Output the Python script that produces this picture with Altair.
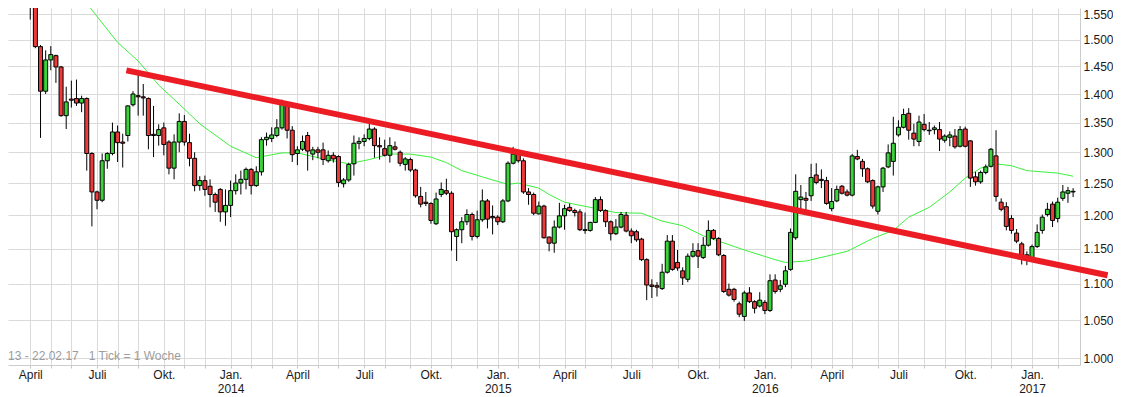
import altair as alt
import pandas as pd
import numpy as np

# ---------------- data (weekly candles, first candle week of 2013-04-07) ----------------
first_week = "2013-04-07"

opens = [
    1.610, 1.575, 1.487, 1.405, 1.462, 1.470, 1.449, 1.362, 1.391, 1.392,
    1.384, 1.392, 1.298, 1.236, 1.223, 1.286, 1.298, 1.334, 1.317, 1.328,
    1.381, 1.397, 1.395, 1.392, 1.330, 1.328, 1.341, 1.317, 1.274, 1.317,
    1.352, 1.316, 1.290, 1.246, 1.254, 1.245, 1.232, 1.240, 1.205, 1.215,
    1.238, 1.250, 1.256, 1.272, 1.246, 1.268, 1.321, 1.323, 1.328, 1.341,
    1.383, 1.337, 1.298, 1.305, 1.328, 1.297, 1.304, 1.304, 1.286, 1.295,
    1.293, 1.249, 1.255, 1.281, 1.315, 1.318, 1.323, 1.339, 1.311, 1.306,
    1.295, 1.309, 1.300, 1.280, 1.288, 1.271, 1.229, 1.220, 1.218, 1.187,
    1.232, 1.238, 1.234, 1.168, 1.178, 1.190, 1.201, 1.168, 1.193, 1.222,
    1.198, 1.197, 1.190, 1.222, 1.282, 1.297, 1.286, 1.236, 1.232, 1.202,
    1.214, 1.167, 1.158, 1.182, 1.199, 1.212, 1.207, 1.205, 1.178, 1.177,
    1.189, 1.224, 1.207, 1.190, 1.172, 1.182, 1.200, 1.176, 1.175, 1.164,
    1.134, 1.098, 1.097, 1.093, 1.116, 1.161, 1.130, 1.118, 1.106, 1.139,
    1.147, 1.137, 1.155, 1.177, 1.165, 1.140, 1.092, 1.092, 1.072, 1.055,
    1.087, 1.075, 1.069, 1.074, 1.063, 1.105, 1.092, 1.099, 1.120, 1.166,
    1.224, 1.226, 1.230, 1.263, 1.256, 1.254, 1.210, 1.222, 1.245, 1.236,
    1.231, 1.293, 1.285, 1.273, 1.254, 1.206, 1.244, 1.276, 1.285, 1.329,
    1.342, 1.366, 1.332, 1.318, 1.347, 1.337, 1.338, 1.338, 1.320, 1.325,
    1.327, 1.310, 1.339, 1.319, 1.260, 1.252, 1.267, 1.277, 1.294, 1.220,
    1.213, 1.195, 1.173, 1.157, 1.141, 1.136, 1.153, 1.177, 1.201, 1.217,
    1.195, 1.226, 1.234, 1.236,
]
highs = [
    1.620, 1.580, 1.490, 1.480, 1.488, 1.472, 1.451, 1.413, 1.424, 1.426,
    1.397, 1.394, 1.300, 1.238, 1.298, 1.300, 1.350, 1.345, 1.331, 1.380,
    1.405, 1.442, 1.418, 1.394, 1.379, 1.347, 1.350, 1.320, 1.330, 1.366,
    1.363, 1.331, 1.300, 1.261, 1.262, 1.256, 1.235, 1.242, 1.240, 1.254,
    1.264, 1.270, 1.275, 1.274, 1.277, 1.325, 1.333, 1.342, 1.356, 1.390,
    1.386, 1.344, 1.310, 1.328, 1.334, 1.309, 1.309, 1.316, 1.303, 1.300,
    1.295, 1.258, 1.283, 1.328, 1.325, 1.330, 1.350, 1.342, 1.325, 1.321,
    1.325, 1.318, 1.303, 1.292, 1.291, 1.273, 1.244, 1.236, 1.220, 1.235,
    1.251, 1.257, 1.237, 1.180, 1.197, 1.209, 1.204, 1.207, 1.240, 1.225,
    1.215, 1.200, 1.225, 1.285, 1.309, 1.300, 1.290, 1.242, 1.235, 1.221,
    1.216, 1.168, 1.192, 1.219, 1.216, 1.218, 1.210, 1.209, 1.204, 1.190,
    1.228, 1.229, 1.209, 1.192, 1.194, 1.205, 1.205, 1.180, 1.178, 1.166,
    1.136, 1.106, 1.102, 1.128, 1.170, 1.170, 1.148, 1.123, 1.143, 1.158,
    1.158, 1.167, 1.192, 1.179, 1.167, 1.142, 1.100, 1.094, 1.075, 1.090,
    1.095, 1.077, 1.088, 1.077, 1.113, 1.113, 1.105, 1.125, 1.180, 1.264,
    1.247, 1.236, 1.281, 1.282, 1.272, 1.260, 1.242, 1.246, 1.247, 1.240,
    1.297, 1.304, 1.289, 1.275, 1.256, 1.246, 1.276, 1.313, 1.360, 1.354,
    1.374, 1.375, 1.348, 1.362, 1.365, 1.351, 1.345, 1.351, 1.330, 1.335,
    1.339, 1.344, 1.343, 1.320, 1.268, 1.270, 1.280, 1.307, 1.337, 1.226,
    1.220, 1.200, 1.179, 1.160, 1.146, 1.156, 1.186, 1.201, 1.219, 1.221,
    1.227, 1.247, 1.244, 1.242,
]
lows = [
    1.539, 1.484, 1.324, 1.400, 1.443, 1.420, 1.360, 1.339, 1.376, 1.379,
    1.368, 1.270, 1.183, 1.209, 1.220, 1.273, 1.295, 1.284, 1.275, 1.318,
    1.378, 1.362, 1.362, 1.305, 1.292, 1.311, 1.295, 1.264, 1.256, 1.300,
    1.311, 1.277, 1.237, 1.238, 1.230, 1.212, 1.205, 1.190, 1.184, 1.197,
    1.232, 1.232, 1.240, 1.232, 1.244, 1.262, 1.311, 1.317, 1.325, 1.338,
    1.323, 1.284, 1.279, 1.302, 1.270, 1.287, 1.290, 1.279, 1.283, 1.283,
    1.244, 1.243, 1.252, 1.262, 1.305, 1.310, 1.320, 1.291, 1.288, 1.293,
    1.283, 1.303, 1.277, 1.270, 1.268, 1.227, 1.212, 1.214, 1.187, 1.185,
    1.228, 1.231, 1.147, 1.132, 1.158, 1.185, 1.162, 1.165, 1.190, 1.180,
    1.171, 1.185, 1.188, 1.220, 1.280, 1.283, 1.233, 1.216, 1.200, 1.201,
    1.165, 1.146, 1.144, 1.180, 1.178, 1.205, 1.198, 1.176, 1.172, 1.175,
    1.188, 1.205, 1.182, 1.162, 1.170, 1.180, 1.174, 1.158, 1.160, 1.132,
    1.077, 1.080, 1.082, 1.091, 1.114, 1.118, 1.118, 1.098, 1.102, 1.137,
    1.122, 1.135, 1.153, 1.163, 1.139, 1.087, 1.082, 1.075, 1.054, 1.049,
    1.073, 1.059, 1.067, 1.058, 1.061, 1.086, 1.088, 1.095, 1.118, 1.163,
    1.204, 1.206, 1.222, 1.248, 1.242, 1.216, 1.206, 1.220, 1.232, 1.229,
    1.229, 1.287, 1.260, 1.250, 1.210, 1.201, 1.236, 1.274, 1.262, 1.326,
    1.340, 1.321, 1.310, 1.310, 1.335, 1.329, 1.330, 1.302, 1.316, 1.310,
    1.306, 1.308, 1.308, 1.244, 1.246, 1.249, 1.264, 1.275, 1.221, 1.206,
    1.177, 1.172, 1.158, 1.127, 1.126, 1.132, 1.151, 1.172, 1.198, 1.182,
    1.189, 1.222, 1.219, 1.228,
]
closes = [
    1.575, 1.487, 1.405, 1.462, 1.472, 1.449, 1.362, 1.386, 1.389, 1.384,
    1.392, 1.298, 1.236, 1.223, 1.286, 1.298, 1.334, 1.316, 1.315, 1.379,
    1.400, 1.395, 1.393, 1.328, 1.328, 1.338, 1.313, 1.274, 1.317, 1.352,
    1.317, 1.290, 1.246, 1.254, 1.240, 1.232, 1.220, 1.205, 1.215, 1.238,
    1.250, 1.256, 1.272, 1.246, 1.268, 1.321, 1.325, 1.329, 1.341, 1.383,
    1.337, 1.296, 1.304, 1.318, 1.302, 1.304, 1.300, 1.288, 1.295, 1.289,
    1.251, 1.255, 1.280, 1.315, 1.318, 1.323, 1.339, 1.311, 1.309, 1.295,
    1.311, 1.305, 1.282, 1.289, 1.271, 1.230, 1.217, 1.218, 1.192, 1.225,
    1.240, 1.234, 1.175, 1.178, 1.190, 1.201, 1.168, 1.193, 1.222, 1.194,
    1.196, 1.190, 1.222, 1.282, 1.297, 1.286, 1.236, 1.232, 1.203, 1.214,
    1.166, 1.158, 1.182, 1.199, 1.210, 1.207, 1.204, 1.178, 1.177, 1.189,
    1.224, 1.207, 1.190, 1.172, 1.182, 1.201, 1.176, 1.169, 1.163, 1.134,
    1.098, 1.096, 1.095, 1.116, 1.161, 1.120, 1.122, 1.108, 1.139, 1.146,
    1.139, 1.155, 1.177, 1.165, 1.141, 1.089, 1.084, 1.078, 1.058, 1.087,
    1.075, 1.066, 1.077, 1.063, 1.104, 1.089, 1.097, 1.118, 1.174, 1.237,
    1.228, 1.223, 1.259, 1.251, 1.254, 1.218, 1.221, 1.240, 1.234, 1.231,
    1.294, 1.289, 1.273, 1.252, 1.214, 1.244, 1.274, 1.299, 1.315, 1.342,
    1.364, 1.337, 1.322, 1.351, 1.338, 1.336, 1.341, 1.322, 1.327, 1.329,
    1.309, 1.338, 1.310, 1.258, 1.252, 1.267, 1.276, 1.305, 1.229, 1.209,
    1.183, 1.177, 1.161, 1.139, 1.137, 1.153, 1.174, 1.197, 1.209, 1.192,
    1.220, 1.236, 1.238, 1.237,
]

# moving average (green line), read at selected candles (candle number -> value)
ma_idx = [11, 12, 17, 21, 25, 29, 33, 39, 44, 49, 52, 56, 62, 66, 70, 74, 78, 81,
          84, 90, 93, 95, 99, 101, 104, 109, 114, 119, 123, 127, 131, 134, 139,
          145, 147, 151, 159, 164, 168, 171, 175, 179, 182, 185, 188, 191, 194,
          200, 203]
ma_val = [1.573, 1.558, 1.495, 1.460, 1.416, 1.382, 1.348, 1.310, 1.291, 1.299,
          1.299, 1.291, 1.281, 1.288, 1.297, 1.297, 1.292, 1.283, 1.270, 1.255,
          1.248, 1.250, 1.242, 1.232, 1.220, 1.212, 1.204, 1.203, 1.191, 1.184,
          1.169, 1.161, 1.148, 1.134, 1.130, 1.132, 1.146, 1.165, 1.177, 1.197,
          1.212, 1.236, 1.258, 1.274, 1.281, 1.278, 1.270, 1.266, 1.261]

# red trend line
trend_dates = ["2013-08-16", "2017-04-14"]
trend_vals = [1.4427, 1.1117]

y_ticks = [1.00, 1.05, 1.10, 1.15, 1.20, 1.25, 1.30, 1.35, 1.40, 1.45, 1.50, 1.55]
footer = "13 - 22.02.17\u00a0\u00a0\u00a01 Tick = 1 Woche"

# ---------------- tables ----------------
dates = pd.date_range(first_week, periods=len(opens), freq="7D")
df = pd.DataFrame({
    "date": dates.strftime("%Y-%m-%d"),
    "open": opens, "high": highs, "low": lows, "close": closes,
})
df["dir"] = np.where(df["close"] >= df["open"], "up", "down")

ma_df = pd.DataFrame({"date": dates[ma_idx].strftime("%Y-%m-%d"), "ma": ma_val})
trend_df = pd.DataFrame({"date": trend_dates, "v": trend_vals})

s = pd.Series(dates)
firsts = s.groupby([s.dt.year, s.dt.month]).min()
x_ticks = [alt.DateTime(year=int(t.year), month=int(t.month), date=int(t.day), utc=True)
           for t in firsts]

# ---------------- styling ----------------
FONT = "Liberation Sans"
GRID = "#dadada"
GREEN = "#3ad43a"
RED = "#ee3a3a"

x_scale = alt.Scale(type="utc", domain=[
    alt.DateTime(year=2013, month=3, date=14, hours=12, utc=True),
    alt.DateTime(year=2017, month=2, date=28, hours=14, utc=True),
])
y_scale = alt.Scale(type="log", domain=[0.99175, 1.5619], nice=False, zero=False)

label_expr = ("utcmonth(datum.value) == 0 ? ['Jan.', utcFormat(datum.value, '%Y')] : "
              "utcmonth(datum.value) == 3 ? 'April' : "
              "utcmonth(datum.value) == 6 ? 'Juli' : "
              "utcmonth(datum.value) == 9 ? 'Okt.' : ''")

x_axis = alt.Axis(values=x_ticks, labelExpr=label_expr, title=None, grid=True,
                  gridColor=GRID, gridWidth=1, domainColor="#cccccc", tickColor="#c4c4c4",
                  tickSize=3, labelFont=FONT, labelFontSize=12, labelColor="#1a1a1a",
                  labelPadding=1, labelLineHeight=14, labelAngle=0, labelOverlap=False,
                  labelFlush=False)
y_axis = alt.Axis(orient="right", values=y_ticks, format=".3f", title=None, grid=True,
                  gridColor=GRID, gridWidth=1, ticks=False, labelPadding=3,
                  domainColor="#cccccc", labelFont=FONT, labelFontSize=12,
                  labelColor="#1a1a1a", labelOverlap=False, labelFlush=False)

X = alt.X("date:T", scale=x_scale, axis=x_axis)

ma = alt.Chart(ma_df).mark_line(color="#3cf03c", strokeWidth=1, clip=True).encode(
    x=X, y=alt.Y("ma:Q", scale=y_scale, axis=y_axis))

wick = alt.Chart(df).mark_rule(color="black", strokeWidth=1, clip=True).encode(
    x=X, y=alt.Y("low:Q", scale=y_scale, axis=y_axis), y2="high:Q")

body = alt.Chart(df).mark_bar(width=4, stroke="black", strokeWidth=1, clip=True).encode(
    x=X, y=alt.Y("open:Q", scale=y_scale, axis=y_axis), y2="close:Q",
    color=alt.Color("dir:N", scale=alt.Scale(domain=["up", "down"], range=[GREEN, RED]),
                    legend=None))

trend = alt.Chart(trend_df).mark_line(color="#ec1c24", strokeWidth=6, clip=False,
                                      strokeCap="butt").encode(
    x=X, y=alt.Y("v:Q", scale=y_scale, axis=y_axis))

foot = alt.Chart(pd.DataFrame({"t": [footer]})).mark_text(
    align="left", baseline="middle", fontSize=12, font=FONT, color="#9c9c9c").encode(
    text="t:N", x=alt.value(0), y=alt.value(348))

chart = alt.layer(ma, wick, body, trend, foot).properties(
    width=1072, height=357,
    autosize=alt.AutoSizeParams(type="none"),
    padding={"left": 0, "top": 0, "right": 33, "bottom": 32},
).configure_view(stroke=None)

chart.save("out.html", embed_options={"renderer": "svg", "actions": False})
